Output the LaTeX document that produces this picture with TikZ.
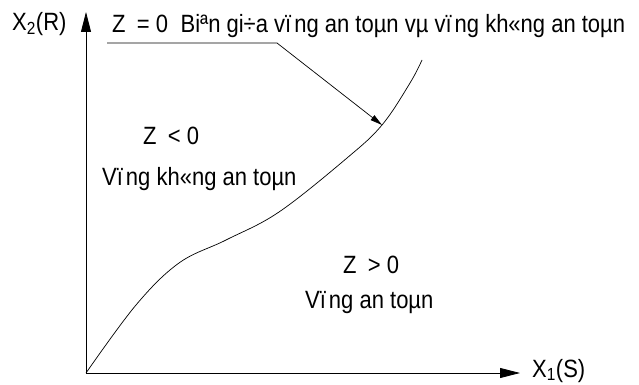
\documentclass[tikz,border=0pt]{standalone}
\usepackage{fontspec}
\setmainfont{Liberation Sans}[FakeStretch=0.88]
\usetikzlibrary{arrows.meta}
\tikzset{
  lbl/.style={inner sep=0pt, font=\fontsize{25}{27}\selectfont, anchor=base west},
  axis/.style={line width=0.8pt, -{Triangle[length=20pt,width=10pt]}},
  thin/.style={line width=0.7pt}
}
\newcommand{\zg}{\hspace{0.45em}}
\newcommand{\vg}{\hspace{0.12em}}
\begin{document}
\begin{tikzpicture}[x=1pt,y=-1pt]
\useasboundingbox (0,0) rectangle (639,385);
\coordinate (O) at (86,373);
\coordinate (Ytip) at (86,12);
\coordinate (Xtip) at (520,373);
\draw[axis] (O) -- (Ytip);
\draw[axis] (O) -- (Xtip);
\draw[thin] plot[smooth, tension=0.6] coordinates {(86,373) (136,305) (179,263) (226,240) (279,212) (347,158) (382,125) (410,83) (422,60)};
\coordinate (L1) at (107,43);
\coordinate (L2) at (277,43);
\coordinate (P) at (382,125);
\draw[thin, -{Triangle[length=12pt,width=6pt]}] (L1) -- (L2) -- (P);
\node[lbl] (x2) at (12,31) {X\textsubscript{2}(R)};
\node[lbl] (x1) at (532,377) {X\textsubscript{1}(S)};
\node[lbl] (top) at (112,33) {Z\zg= 0\hspace{0.5em}Biªn gi÷a vï\vg ng an toµn vµ vï\vg ng kh«ng an toµn};
\node[lbl] (zl) at (143,144) {Z\zg< 0};
\node[lbl] (ul) at (102,185) {Vï\vg ng kh«ng an toµn};
\node[lbl] (zg) at (343,273) {Z\zg> 0};
\node[lbl] (sf) at (305,308) {Vï\vg ng an toµn};
\end{tikzpicture}
\end{document}
